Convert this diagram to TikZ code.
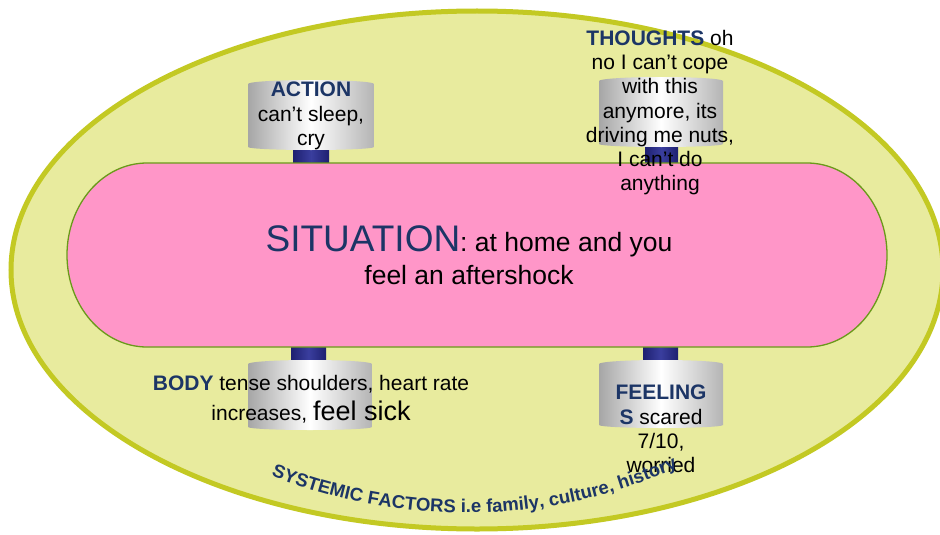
\documentclass[tikz,border=0pt]{standalone}
\usepackage{fontspec}
\setmainfont{Liberation Sans}
\usetikzlibrary{decorations.text}
\definecolor{navy}{HTML}{1C3566}
\definecolor{ovalfill}{HTML}{E8EB9E}
\definecolor{ovalline}{HTML}{C3C923}
\definecolor{pinkfill}{HTML}{FF96C8}
\definecolor{pinkline}{HTML}{6A9A1A}
\definecolor{cylgray}{HTML}{A6A6A6}
\definecolor{cylgraytwo}{HTML}{B4B4B4}
\definecolor{bardark}{HTML}{1E2070}
\definecolor{barlight}{HTML}{3A3E9E}
\newcommand\mycyl[4]{%
  \shade[left color=cylgray, right color=cylgraytwo, middle color=white]
    (#1,#3+4) -- (#1,#4-3)
    arc[start angle=180, end angle=0, x radius={(#2-#1)/2}, y radius=3]
    -- (#2,#3+4)
    arc[start angle=0, end angle=-180, x radius={(#2-#1)/2}, y radius=4] -- cycle;
}
\newcommand\mybar[4]{%
  \shade[left color=bardark, right color=bardark, middle color=barlight]
    (#1,#3) rectangle (#2,#4);
}
\tikzset{
  txt/.style={align=center, inner sep=0pt, anchor=north, text=black,
    font=\fontsize{21}{24.2}\selectfont}
}
\begin{document}
\begin{tikzpicture}[x=1pt, y=-1pt]
\useasboundingbox (0,0) rectangle (940,535);
% outer oval
\draw[fill=ovalfill, draw=ovalline, line width=5] (477,270) ellipse[x radius=466, y radius=259];
% connector bars
\mybar{293}{329}{149}{163}
\mybar{645}{678}{146}{163}
\mybar{291}{326}{346}{361}
\mybar{643}{678}{346}{361}
% situation shape
\draw[fill=pinkfill, draw=pinkline, line width=1.3]
  (147,163) -- (807,163)
  arc[start angle=-90, end angle=90, x radius=80, y radius=92]
  -- (147,347)
  arc[start angle=90, end angle=270, x radius=80, y radius=92] -- cycle;
% cylinders
\mycyl{248}{374}{80}{150}
\mycyl{599}{723}{77}{147}
\mycyl{248}{372}{360}{430}
\mycyl{599}{723}{360}{428}
% texts
\node[txt] (action) at (311,82) {{\color{navy}\bfseries ACTION}\\can’t sleep,\\cry};
\node[txt] (thoughts) at (660,30) {{\color{navy}\bfseries THOUGHTS} oh\\no I can’t cope\\with this\\anymore, its\\driving me nuts,\\I can’t do\\anything};
\node[txt] (body) at (311,375) {{\color{navy}\bfseries BODY} tense shoulders, heart rate\\[6pt]increases, {\fontsize{27}{30}\selectfont feel sick}};
\node[txt, font=\fontsize{21}{24.3}\selectfont] (feelings) at (661,385) {{\color{navy}\bfseries FEELING}\\{\color{navy}\bfseries S} scared\\7/10,\\worried};
\node[txt, font=\fontsize{26.5}{33}\selectfont] (situation) at (469,225.5) {{\color{navy}\fontsize{37}{33}\selectfont SITUATION}: at home and you\\feel an aftershock};
% systemic factors text along arc
\path[decorate, decoration={text along path, text align=left,
  text={|\fontsize{18.5}{21}\selectfont\bfseries\color{navy}|SYSTEMIC FACTORS i.e family, culture, history}}]
  (465,-9) ++(111.8:522) arc[start angle=111.8, end angle=64, radius=522];
\end{tikzpicture}
\end{document}
